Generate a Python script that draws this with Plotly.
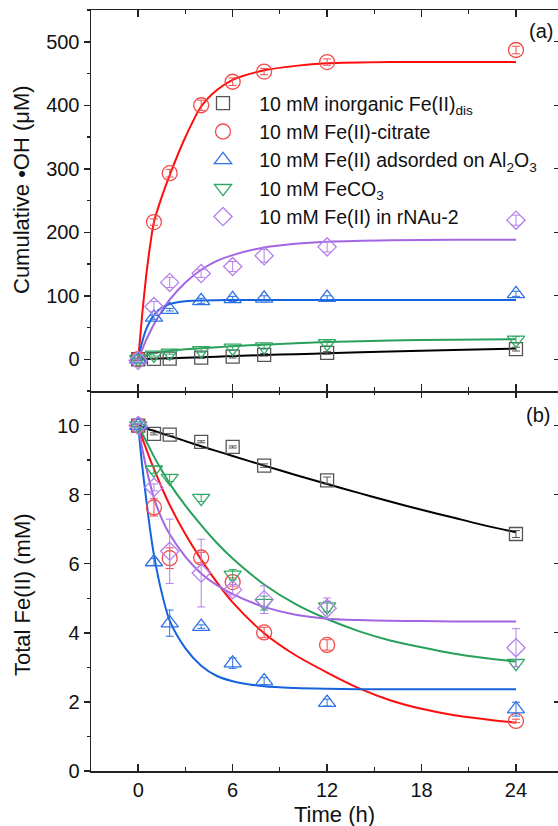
import plotly.graph_objects as go

# ---------------- data ----------------
time_h = [0, 1, 2, 4, 6, 8, 12, 24]

series_names = [
    "10 mM inorganic Fe(II)<sub>dis</sub>",
    "10 mM Fe(II)-citrate",
    "10 mM Fe(II) adsorded on Al<sub>2</sub>O<sub>3</sub>",
    "10 mM FeCO<sub>3</sub>",
    "10 mM Fe(II) in rNAu-2",
]

# (a) cumulative OH (uM)
oh_inorg = [0, 0.5, 1, 2.5, 4, 7, 10, 16]
oh_citrate = [0, 216, 293, 400, 437, 453, 468, 487]
oh_al2o3 = [0, 66, 78, 92, 95, 96, 97, 103]
oh_feco3 = [0, 7, 10, 14, 18, 20, 25, 30.5]
oh_rnau = [-2, 83, 121, 135, 146, 163, 177, 219]

oh_inorg_err = [1, 1, 1, 1, 2, 2, 2, 3]
oh_citrate_err = [2, 5, 6, 8, 6, 5, 5, 6]
oh_al2o3_err = [1, 3, 2, 4, 4, 4, 3, 4]
oh_feco3_err = [1, 2, 2, 3, 3, 4, 4, 5]
oh_rnau_err = [2, 8, 8, 6, 8, 10, 8, 8]

# (b) total Fe(II) (mM)
fe_inorg = [10, 9.76, 9.74, 9.53, 9.38, 8.84, 8.41, 6.86]
fe_citrate = [10, 7.63, 6.16, 6.18, 5.47, 4.01, 3.65, 1.45]
fe_al2o3 = [10, 6.05, 4.28, 4.18, 3.12, 2.6, 1.98, 1.79]
fe_feco3 = [10, 8.72, 8.48, 7.9, 5.68, 4.86, 4.76, 3.12]
fe_rnau = [10, 8.21, 6.36, 5.73, 5.25, 4.96, 4.71, 3.57]

fe_inorg_err = [0.02, 0.03, 0.03, 0.03, 0.03, 0.05, 0.1, 0.1]
fe_citrate_err = [0.05, 0.25, 0.3, 0.15, 0.12, 0.15, 0.15, 0.05]
fe_al2o3_err = [0.05, 0.1, 0.38, 0.05, 0.15, 0.1, 0.1, 0.2]
fe_feco3_err = [0.05, 0.1, 0.1, 0.1, 0.15, 0.2, 0.15, 0.1]
fe_rnau_err = [0.05, 0.1, 0.93, 0.98, 0.15, 0.4, 0.3, 0.55]

# fitted curves
fit_t_top = [0, 0.25, 0.5, 0.75, 1, 1.5, 2, 3, 4, 5, 6, 8, 10, 12, 16, 20, 24]
fit_oh_citrate = [0, 70, 130, 178, 216, 256, 290, 350, 398, 424, 440, 455, 462, 466, 468, 468, 468]
fit_oh_rnau = [0, 15, 30, 43, 55, 76, 94, 121, 141, 155, 164, 176, 182, 185, 187.5, 188, 188]
fit_oh_al2o3 = [0, 27, 47, 60, 70, 81.5, 87, 91.5, 92.7, 93.1, 93.3, 93.4, 93.4, 93.4, 93.4, 93.4, 93.4]
fit_oh_feco3 = [0, 3.5, 6, 8.2, 10, 12, 13.5, 15.7, 17.5, 19, 20.5, 23, 25.2, 27, 29.5, 30.8, 31.5]
fit_oh_inorg = [0, 0.2, 0.4, 0.6, 0.8, 1.2, 1.6, 2.4, 3.2, 4.1, 5, 6.6, 8, 9.4, 12.1, 14.6, 16.8]

fit_t_bot = [0, 0.25, 0.5, 0.75, 1, 1.5, 2, 3, 4, 5, 6, 8, 10, 12, 14, 16, 18, 20, 22, 24]
fit_fe_inorg = [10.0, 9.96, 9.92, 9.88, 9.85, 9.77, 9.70, 9.55, 9.40, 9.26, 9.12, 8.84, 8.57, 8.31, 8.05, 7.80, 7.56, 7.34, 7.11, 6.91]
fit_fe_citrate = [10, 9.65, 9.33, 9.03, 8.75, 8.2, 7.7, 6.85, 6.12, 5.46, 4.88, 3.99, 3.35, 2.85, 2.4, 2.05, 1.8, 1.62, 1.5, 1.40]
fit_fe_al2o3 = [10, 8.85, 7.9, 7.0, 6.25, 5.15, 4.35, 3.55, 3.05, 2.75, 2.6, 2.45, 2.40, 2.38, 2.37, 2.37, 2.37, 2.37, 2.37, 2.37]
fit_fe_feco3 = [10, 9.78, 9.55, 9.33, 9.1, 8.7, 8.32, 7.68, 7.12, 6.6, 6.15, 5.4, 4.83, 4.4, 4.05, 3.78, 3.58, 3.4, 3.27, 3.17]
fit_fe_rnau = [10, 9.35, 8.8, 8.32, 7.9, 7.3, 6.85, 6.2, 5.72, 5.38, 5.12, 4.75, 4.52, 4.41, 4.37, 4.35, 4.34, 4.33, 4.33, 4.33]

x_tick_vals = [0, 6, 12, 18, 24]

# ---------------- styles ----------------
line_colors = ["#000000", "#ff0d0d", "#1463dc", "#26a05a", "#a266e4"]
mark_colors = ["#555555", "#f24a4a", "#2f72e6", "#33a865", "#b480ec"]
symbols = ["square-open", "circle-open", "triangle-up-open", "triangle-down-open", "diamond-open"]
sizes = [13, 15, 15, 15, 14]
FONT = "Liberation Sans, Arial, sans-serif"
AX = "#222"

top_pts = [oh_inorg, oh_citrate, oh_al2o3, oh_feco3, oh_rnau]
top_err = [oh_inorg_err, oh_citrate_err, oh_al2o3_err, oh_feco3_err, oh_rnau_err]
top_fit = [fit_oh_inorg, fit_oh_citrate, fit_oh_al2o3, fit_oh_feco3, fit_oh_rnau]
bot_pts = [fe_inorg, fe_citrate, fe_al2o3, fe_feco3, fe_rnau]
bot_err = [fe_inorg_err, fe_citrate_err, fe_al2o3_err, fe_feco3_err, fe_rnau_err]
bot_fit = [fit_fe_inorg, fit_fe_citrate, fit_fe_al2o3, fit_fe_feco3, fit_fe_rnau]

fig = go.Figure()

for i in range(5):
    fig.add_trace(go.Scatter(x=fit_t_top, y=top_fit[i], mode="lines", xaxis="x2", yaxis="y2",
                             line=dict(color=line_colors[i], width=2, shape="spline", smoothing=0.8),
                             showlegend=False, hoverinfo="skip"))
    fig.add_trace(go.Scatter(x=fit_t_bot, y=bot_fit[i], mode="lines", xaxis="x", yaxis="y",
                             line=dict(color=line_colors[i], width=2, shape="spline", smoothing=0.8),
                             showlegend=False, hoverinfo="skip"))

for i in range(5):
    mk = dict(symbol=symbols[i], size=sizes[i], color=mark_colors[i], line=dict(width=1.3, color=mark_colors[i]))
    fig.add_trace(go.Scatter(x=time_h, y=top_pts[i], mode="markers", xaxis="x2", yaxis="y2",
                             marker=mk, name="\u00a0\u00a0\u00a0" + series_names[i], showlegend=True,
                             error_y=dict(type="data", array=top_err[i], color=mark_colors[i], thickness=1, width=4)))
    fig.add_trace(go.Scatter(x=time_h, y=bot_pts[i], mode="markers", xaxis="x", yaxis="y",
                             marker=mk, name=series_names[i], showlegend=False,
                             error_y=dict(type="data", array=bot_err[i], color=mark_colors[i], thickness=1, width=4)))

axis_common = dict(showgrid=False, zeroline=False, tickcolor=AX,
                   tickfont=dict(family=FONT, size=20, color="#111"))
xminor = dict(dtick=3, tick0=0, ticks="inside", ticklen=4, tickwidth=1.2, tickcolor=AX)
split = 380 / 761
XR = [-3, 26.67]

fig.update_layout(
    width=558, height=826,
    margin=dict(l=91, r=0, t=10, b=55),
    paper_bgcolor="white", plot_bgcolor="white",
    font=dict(family=FONT, color="#111"),
    xaxis=dict(domain=[0, 1], anchor="y", range=XR, tickvals=x_tick_vals,
               ticks="inside", ticklen=7, tickwidth=1.5, showline=True, linewidth=1.5, linecolor=AX,
               mirror=False, minor=xminor, **axis_common),
    xaxis2=dict(domain=[0, 1], anchor="y2", range=XR, tickvals=x_tick_vals, matches="x",
                ticks="inside", ticklen=7, tickwidth=1.5, showline=True, linewidth=1.5, linecolor=AX,
                mirror="ticks", showticklabels=False, minor=xminor, **axis_common),
    xaxis3=dict(overlaying="x", matches="x", anchor="y", side="top", range=XR, tickvals=x_tick_vals,
                ticks="inside", ticklen=7, tickwidth=1.5, showline=False, showticklabels=False,
                minor=xminor, **axis_common),
    yaxis=dict(domain=[0, split], anchor="x", range=[0, 11], dtick=2, tick0=0,
               ticks="outside", ticklen=6, tickwidth=1.5, showline=True, linewidth=1.5, linecolor=AX,
               minor=dict(dtick=1, tick0=0, ticks="outside", ticklen=3, tickwidth=1.2, tickcolor=AX),
               **axis_common),
    yaxis2=dict(domain=[split, 1], anchor="x2", range=[-50, 550], dtick=100, tick0=0,
                ticks="outside", ticklen=6, tickwidth=1.5, showline=True, linewidth=1.5, linecolor=AX,
                minor=dict(dtick=50, tick0=0, ticks="outside", ticklen=3, tickwidth=1.2, tickcolor=AX),
                **axis_common),
    yaxis3=dict(overlaying="y", matches="y", anchor="x", side="right", range=[0, 11], dtick=2, tick0=0,
                ticks="inside", ticklen=4, tickwidth=1.2, showline=False, showticklabels=False,
                **axis_common),
    yaxis4=dict(overlaying="y2", matches="y2", anchor="x2", side="right", range=[-50, 550], dtick=100, tick0=0,
                ticks="inside", ticklen=4, tickwidth=1.2, showline=False, showticklabels=False,
                **axis_common),
    legend=dict(x=(203 - 91) / 467, y=1 - (84 - 10) / 761, xanchor="left", yanchor="top",
                bgcolor="rgba(0,0,0,0)", borderwidth=0,
                font=dict(family=FONT, size=19.5, color="#111"), tracegroupgap=0),
    showlegend=True,
)

fig.add_trace(go.Scatter(x=[None], y=[None], xaxis="x3", yaxis="y", showlegend=False, hoverinfo="skip"))
fig.add_trace(go.Scatter(x=[None], y=[None], xaxis="x", yaxis="y3", showlegend=False, hoverinfo="skip"))
fig.add_trace(go.Scatter(x=[None], y=[None], xaxis="x2", yaxis="y4", showlegend=False, hoverinfo="skip"))

fig.add_annotation(text="Cumulative •OH (μM)", xref="paper", yref="paper",
                   x=(22 - 91) / 467, y=1 - (190 - 10) / 761, textangle=-90, showarrow=False,
                   font=dict(family=FONT, size=22, color="#111"), xanchor="center", yanchor="middle")
fig.add_annotation(text="Total Fe(II) (mM)", xref="paper", yref="paper",
                   x=(22 - 91) / 467, y=1 - (595 - 10) / 761, textangle=-90, showarrow=False,
                   font=dict(family=FONT, size=22, color="#111"), xanchor="center", yanchor="middle")
fig.add_annotation(text="Time (h)", xref="paper", yref="paper",
                   x=(334 - 91) / 467, y=1 - (814 - 10) / 761, showarrow=False,
                   font=dict(family=FONT, size=22, color="#111"), xanchor="center", yanchor="middle")
fig.add_annotation(text="(a)", xref="paper", yref="paper",
                   x=(541 - 91) / 467, y=1 - (31 - 10) / 761, showarrow=False,
                   font=dict(family=FONT, size=20, color="#111"), xanchor="center", yanchor="middle")
fig.add_annotation(text="(b)", xref="paper", yref="paper",
                   x=(538 - 91) / 467, y=1 - (415 - 10) / 761, showarrow=False,
                   font=dict(family=FONT, size=20, color="#111"), xanchor="center", yanchor="middle")

# remove the default page margin so the 558x826 figure fills the window exactly
fig.write_html("out.html",
               config={"displayModeBar": False, "staticPlot": True},
               post_script="document.body.style.margin='0';document.body.style.overflow='hidden';")
